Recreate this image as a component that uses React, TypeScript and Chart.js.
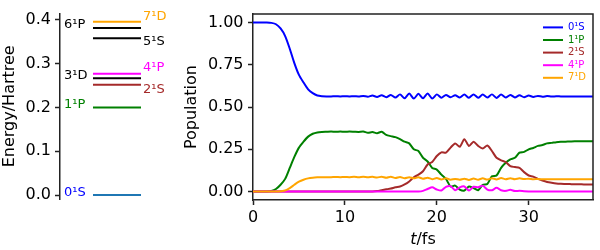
import React, { useEffect, useRef } from 'react';
import { Chart, registerables } from 'chart.js';

Chart.register(...registerables);

const FONT = 'DejaVu Sans';
Chart.defaults.font.family = FONT;

// ---------- Left panel: energy levels ----------
const LEVEL_NAMES = ['0¹S', '1¹P', '2¹S', '3¹D', '4¹P', '5¹S', '6¹P', '7¹D'];
const LEVEL_ENERGIES = [0.0, 0.2, 0.252, 0.267, 0.277, 0.358, 0.3815, 0.396];
const LEVEL_Y_TICKS = [0.0, 0.1, 0.2, 0.3, 0.4];

// ---------- Right panel: populations ----------
const TIME = [
  0, 0.5, 1, 1.5, 2, 2.5, 3, 3.5, 4, 4.5, 5, 5.5, 6, 6.5, 7, 7.5, 8, 8.5, 9, 9.5,
  10, 10.5, 11, 11.5, 12, 12.5, 13, 13.5, 14, 14.5, 15, 15.5, 16, 16.5, 17, 17.5, 18, 18.5, 19, 19.5,
  20, 20.5, 21, 21.5, 22, 22.5, 23, 23.5, 24, 24.5, 25, 25.5, 26, 26.5, 27, 27.5, 28, 28.5, 29, 29.5,
  30, 30.5, 31, 31.5, 32, 32.5, 33, 33.5, 34, 34.5, 35, 35.5, 36, 36.5, 37,
];
const POP_0S = [
  1.0, 1.0, 1.0, 1.0, 0.998, 0.99, 0.965, 0.92, 0.845, 0.76, 0.69, 0.645, 0.605, 0.582, 0.568, 0.564,
  0.563, 0.563, 0.564, 0.563, 0.564, 0.563, 0.564, 0.563, 0.566, 0.561,
  0.568, 0.56, 0.57, 0.558, 0.572, 0.556, 0.575, 0.552, 0.58, 0.55, 0.578, 0.552, 0.58, 0.55,
  0.575, 0.555, 0.572, 0.558, 0.57, 0.556, 0.574, 0.555, 0.575, 0.555, 0.574, 0.556, 0.575, 0.554,
  0.574, 0.556, 0.572, 0.557, 0.57, 0.558, 0.568, 0.56, 0.566, 0.561, 0.565, 0.562, 0.564,
  0.563, 0.563, 0.563, 0.563, 0.563, 0.563, 0.563, 0.563,
];
const POP_1P = [
  0, 0, 0, 0, 0.003, 0.015, 0.04, 0.075, 0.14, 0.205, 0.26, 0.295, 0.325, 0.342, 0.35, 0.353,
  0.354, 0.355, 0.354, 0.355, 0.354, 0.355, 0.354, 0.353, 0.355,
  0.348, 0.352, 0.345, 0.354, 0.335, 0.328, 0.322, 0.31, 0.295, 0.285, 0.25, 0.24, 0.2, 0.178, 0.14,
  0.13, 0.1, 0.075, 0.03, 0.035, 0.012, 0.006, 0.03, 0.02, 0.008, 0.04, 0.045, 0.09, 0.095, 0.14,
  0.17, 0.19, 0.2, 0.23, 0.235, 0.25, 0.258, 0.27, 0.275, 0.285, 0.288, 0.292, 0.294, 0.295, 0.296,
  0.297, 0.297, 0.298, 0.298, 0.298,
];
const POP_2S = [
  0, 0, 0, 0, 0, 0, 0, 0, 0, 0, 0, 0, 0, 0, 0, 0, 0, 0, 0, 0, 0, 0, 0, 0, 0, 0, 0,
  0.003, 0.008, 0.013, 0.018, 0.025, 0.03, 0.042, 0.06, 0.085, 0.1, 0.12, 0.16, 0.175, 0.21, 0.232,
  0.23, 0.26, 0.285, 0.265, 0.31, 0.27, 0.295, 0.27, 0.255, 0.272, 0.24, 0.2, 0.185, 0.175, 0.15,
  0.145, 0.14, 0.115, 0.095, 0.088, 0.075, 0.065, 0.057, 0.052, 0.048, 0.046, 0.045, 0.044, 0.043,
  0.043, 0.042, 0.042, 0.042,
];
const POP_4P = [
  0, 0, 0, 0, 0, 0, 0, 0, 0, 0, 0, 0, 0, 0, 0, 0, 0, 0, 0, 0, 0, 0, 0, 0, 0, 0, 0, 0, 0, 0, 0, 0, 0, 0, 0, 0, 0,
  0.004, 0.015, 0.025, 0.012, 0.006, 0.028, 0.032, 0.008, 0.025, 0.03, 0.006, 0.028, 0.025, 0.035,
  0.012, 0.008, 0.022, 0.008, 0.004, 0.01, 0.003, 0.004, 0.002,
  0.001, 0.001, 0.001, 0.001, 0.001, 0.001, 0.001, 0.001, 0.001, 0.001, 0.001, 0.001, 0.001, 0.001, 0.001,
];
const POP_7D = [
  0, 0, 0, 0, 0, 0, 0.002, 0.006, 0.02, 0.04, 0.058, 0.07, 0.078, 0.082, 0.084, 0.085,
  0.085, 0.085, 0.086, 0.085, 0.086, 0.085, 0.087, 0.084, 0.087, 0.084, 0.087, 0.083, 0.088,
  0.082, 0.088, 0.08, 0.086, 0.079, 0.085, 0.078, 0.084, 0.076, 0.082, 0.073, 0.08, 0.072, 0.078,
  0.07, 0.075, 0.07, 0.076, 0.069, 0.077, 0.07, 0.078, 0.071, 0.079, 0.072, 0.08, 0.073, 0.079,
  0.073, 0.078, 0.074, 0.076, 0.073, 0.074,
  0.073, 0.073, 0.073, 0.073, 0.073, 0.073, 0.073, 0.073, 0.073, 0.073, 0.073, 0.073,
];
const SERIES_NAMES = ['0¹S', '1¹P', '2¹S', '4¹P', '7¹D'];
const SERIES_VALUES = [POP_0S, POP_1P, POP_2S, POP_4P, POP_7D];
const POP_Y_TICKS = [0, 0.25, 0.5, 0.75, 1.0];
const TIME_TICKS = [0, 10, 20, 30];

// ---------- Styles ----------
const LEVEL_LINE_COLORS = ['#1f77b4', '#008000', '#a52a2a', '#000000', '#ff00ff', '#000000', '#000000', '#ffa500'];
const LEVEL_LABEL_COLORS = ['#0000ff', '#008000', '#a52a2a', '#000000', '#ff00ff', '#000000', '#000000', '#ffa500'];
const LEVEL_LABEL_SIDE = ['left', 'left', 'right', 'left', 'right', 'right', 'left', 'right'];
const LEVEL_LABEL_DY = [-2.3, -3.3, 4.7, -2.7, -5.7, 3.7, -3.4, -5];
const LEVEL_X = [0.33, 0.81];
const SERIES_COLORS = ['#0000ff', '#008000', '#a52a2a', '#ff00ff', '#ffa500'];
const SERIES_ORDER = [4, 3, 2, 1, 0];
const AXIS_COLOR = '#222';
const TEXT_COLOR = '#000';
const TICK_SIZE = 16;

function LevelChart() {
  const ref = useRef<HTMLCanvasElement>(null);
  useEffect(() => {
    const canvas = ref.current!;
    const datasets = LEVEL_NAMES.map((name, i) => ({
      label: name,
      data: [
        { x: LEVEL_X[0], y: LEVEL_ENERGIES[i] },
        { x: LEVEL_X[1], y: LEVEL_ENERGIES[i] },
      ],
      borderColor: LEVEL_LINE_COLORS[i],
      backgroundColor: LEVEL_LINE_COLORS[i],
      borderWidth: 2,
      pointRadius: 0,
    }));
    const labelPlugin = {
      id: 'levelLabels',
      afterDatasetsDraw(chart: any) {
        const { ctx, chartArea } = chart;
        const xs = chart.scales.x;
        const ys = chart.scales.y;
        ctx.save();
        ctx.font = `13px ${FONT}`;
        ctx.textBaseline = 'middle';
        ctx.textAlign = 'left';
        LEVEL_NAMES.forEach((name, i) => {
          const y = ys.getPixelForValue(LEVEL_ENERGIES[i]) + LEVEL_LABEL_DY[i];
          const x = LEVEL_LABEL_SIDE[i] === 'left' ? chartArea.left + 4 : xs.getPixelForValue(LEVEL_X[1]) + 2;
          ctx.fillStyle = LEVEL_LABEL_COLORS[i];
          ctx.fillText(name, x, y);
        });
        ctx.restore();
      },
    };
    const chart = new Chart(canvas, {
      type: 'line',
      data: { datasets } as any,
      options: {
        animation: false,
        responsive: false,
        maintainAspectRatio: false,
        layout: { padding: { left: 0, right: 0, top: 7, bottom: 51 } },
        plugins: { legend: { display: false }, tooltip: { enabled: false } },
        scales: {
          x: { type: 'linear', display: false, min: 0, max: 1.1 },
          y: {
            type: 'linear',
            min: -0.009,
            max: 0.4145,
            afterBuildTicks: (s: any) => {
              s.ticks = LEVEL_Y_TICKS.map((v) => ({ value: v }));
            },
            afterFit: (s: any) => {
              s.width = 60;
            },
            ticks: {
              callback: (v: any) => Number(v).toFixed(1),
              font: { size: TICK_SIZE },
              color: TEXT_COLOR,
              padding: 4,
            },
            grid: { drawOnChartArea: false, drawTicks: true, tickLength: 5, tickWidth: 1.5, tickColor: AXIS_COLOR },
            border: { display: true, color: AXIS_COLOR, width: 1.5 },
            title: {
              display: true,
              text: 'Energy/Hartree',
              font: { size: TICK_SIZE },
              color: TEXT_COLOR,
              padding: { top: 0, bottom: 0 },
            },
          },
        },
      } as any,
      plugins: [labelPlugin],
    });
    return () => chart.destroy();
  }, []);
  return (
    <canvas
      ref={ref}
      width={170}
      height={250}
      style={{ position: 'absolute', left: 0, top: 0, width: 170, height: 250 }}
    />
  );
}

function PopulationChart() {
  const ref = useRef<HTMLCanvasElement>(null);
  useEffect(() => {
    const canvas = ref.current!;
    const datasets = SERIES_NAMES.map((name, i) => ({
      label: name,
      data: TIME.map((t, j) => ({ x: t, y: SERIES_VALUES[i][j] })),
      borderColor: SERIES_COLORS[i],
      backgroundColor: SERIES_COLORS[i],
      borderWidth: 2,
      pointRadius: 0,
      tension: 0.25,
      order: SERIES_ORDER[i],
    }));
    const framePlugin = {
      id: 'frame',
      afterDraw(chart: any) {
        const { ctx, chartArea } = chart;
        ctx.save();
        ctx.strokeStyle = AXIS_COLOR;
        ctx.lineWidth = 1.5;
        ctx.beginPath();
        ctx.moveTo(chartArea.left, chartArea.top);
        ctx.lineTo(chartArea.right, chartArea.top);
        ctx.lineTo(chartArea.right, chartArea.bottom);
        ctx.stroke();
        ctx.restore();
      },
    };
    const legendPlugin = {
      id: 'innerLegend',
      afterDraw(chart: any) {
        const { ctx, chartArea } = chart;
        ctx.save();
        ctx.font = `10px ${FONT}`;
        ctx.textBaseline = 'middle';
        ctx.textAlign = 'left';
        chart.data.datasets.forEach((ds: any, i: number) => {
          const y = chartArea.top + 13.3 + i * 12.6;
          ctx.strokeStyle = ds.borderColor;
          ctx.lineWidth = 2;
          ctx.beginPath();
          ctx.moveTo(chartArea.right - 50, y);
          ctx.lineTo(chartArea.right - 30, y);
          ctx.stroke();
          ctx.fillStyle = ds.borderColor;
          ctx.fillText(ds.label, chartArea.right - 25, y);
        });
        ctx.restore();
      },
    };
    const xLabelPlugin = {
      id: 'xLabel',
      afterDraw(chart: any) {
        const { ctx, chartArea } = chart;
        ctx.save();
        ctx.fillStyle = TEXT_COLOR;
        ctx.textBaseline = 'alphabetic';
        ctx.textAlign = 'left';
        const italic = `italic ${TICK_SIZE}px ${FONT}`;
        const normal = `${TICK_SIZE}px ${FONT}`;
        ctx.font = italic;
        const w1 = ctx.measureText('t').width;
        ctx.font = normal;
        const w2 = ctx.measureText('/fs').width;
        const cx = (chartArea.left + chartArea.right) / 2;
        const x0 = cx - (w1 + w2) / 2;
        const y = chartArea.bottom + 44;
        ctx.font = italic;
        ctx.fillText('t', x0, y);
        ctx.font = normal;
        ctx.fillText('/fs', x0 + w1, y);
        ctx.restore();
      },
    };
    const chart = new Chart(canvas, {
      type: 'line',
      data: { datasets } as any,
      options: {
        animation: false,
        responsive: false,
        maintainAspectRatio: false,
        layout: { padding: { left: 0, right: 7, top: 7, bottom: 0 } },
        plugins: { legend: { display: false }, tooltip: { enabled: false } },
        scales: {
          x: {
            type: 'linear',
            min: 0,
            max: 37,
            afterBuildTicks: (s: any) => {
              s.ticks = TIME_TICKS.map((v) => ({ value: v }));
            },
            afterFit: (s: any) => {
              s.height = 50;
            },
            ticks: { font: { size: TICK_SIZE }, color: TEXT_COLOR, padding: 3, maxRotation: 0 },
            grid: { drawOnChartArea: false, drawTicks: true, tickLength: 5, tickWidth: 1.5, tickColor: AXIS_COLOR },
            border: { display: true, color: AXIS_COLOR, width: 1.5 },
          },
          y: {
            type: 'linear',
            min: -0.05,
            max: 1.05,
            afterBuildTicks: (s: any) => {
              s.ticks = POP_Y_TICKS.map((v) => ({ value: v }));
            },
            afterFit: (s: any) => {
              s.width = 83;
            },
            ticks: {
              callback: (v: any) => Number(v).toFixed(2),
              font: { size: TICK_SIZE },
              color: TEXT_COLOR,
              padding: 4.5,
            },
            grid: { drawOnChartArea: false, drawTicks: true, tickLength: 5, tickWidth: 1.5, tickColor: AXIS_COLOR },
            border: { display: true, color: AXIS_COLOR, width: 1.5 },
            title: {
              display: true,
              text: 'Population',
              font: { size: TICK_SIZE },
              color: TEXT_COLOR,
              padding: { top: 12, bottom: 0 },
            },
          },
        },
      } as any,
      plugins: [framePlugin, legendPlugin, xLabelPlugin],
    });
    return () => chart.destroy();
  }, []);
  return (
    <canvas
      ref={ref}
      width={430}
      height={250}
      style={{ position: 'absolute', left: 170, top: 0, width: 430, height: 250 }}
    />
  );
}

export default function App() {
  return (
    <div
      style={{
        position: 'fixed',
        left: 0,
        top: 0,
        width: 600,
        height: 250,
        background: '#fff',
        overflow: 'hidden',
      }}
    >
      <LevelChart />
      <PopulationChart />
    </div>
  );
}
